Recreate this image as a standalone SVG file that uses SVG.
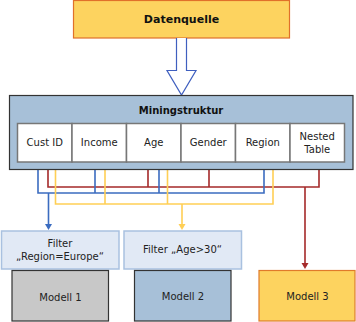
<svg xmlns="http://www.w3.org/2000/svg" width="356" height="322" viewBox="0 0 356 322">
<style>
text{font-family:"DejaVu Sans",Verdana,sans-serif;font-size:10px;fill:#222;text-anchor:middle;dominant-baseline:central}
.b{font-weight:bold;fill:#111}
.cell{fill:#fff;stroke:#777;stroke-width:1.5}
.ln{fill:none;stroke-width:1.6}
.bl{stroke:#3B6CC0}
.rd{stroke:#A52A2A}
.yl{stroke:#FFCF55}
.flt{fill:#E1E9F5;stroke:#A9C1E0;stroke-width:1.5}
</style>
<g id="datenquelle">
<rect x="73.5" y="0.5" width="216" height="37.5" fill="#FDD35F" stroke="#E0702A" stroke-width="1.2"/>
<text class="b" x="181.5" y="19" style="font-size:11px">Datenquelle</text>
</g>
<g id="connectors">
<path d="M176.5,38 V70.5 H167 L181.5,95 L196,70.5 H186.5 V38" fill="#fff" stroke="#3F5FBF" stroke-width="1.2"/>
<path class="ln rd" d="M48,162 V187 H319 V162 M148,162 V187 M209,162 V187 M305,187 V264"/>
<path d="M301.5,263 H308.5 L305,269 Z" fill="#A52A2A"/>
<path class="ln bl" d="M38,162 V193 H264 V162 M95,162 V193 M159,162 V193 M48.5,193 V225"/>
<path d="M45,224 H52 L48.5,230 Z" fill="#3B6CC0"/>
<path class="ln yl" d="M55.5,162 V204 H273 V162 M105,162 V204 M167.5,162 V204 M182,204 V225"/>
<path d="M178.5,224 H185.5 L182,230 Z" fill="#FFCF55"/>
</g>
<g id="miningstruktur">
<rect x="9.5" y="95.5" width="343.5" height="74" fill="#A7C0D8" stroke="#333" stroke-width="1.2"/>
<text class="b" x="181" y="110">Miningstruktur</text>
</g>
<g id="cust-id"><rect class="cell" x="17.5" y="123.5" width="54.5" height="38.5"/><text x="44.75" y="142.5">Cust ID</text></g>
<g id="income"><rect class="cell" x="72" y="123.5" width="54.5" height="38.5"/><text x="99.25" y="142.5">Income</text></g>
<g id="age"><rect class="cell" x="126.5" y="123.5" width="54.5" height="38.5"/><text x="153.75" y="142.5">Age</text></g>
<g id="gender"><rect class="cell" x="181" y="123.5" width="54.5" height="38.5"/><text x="208.25" y="142.5">Gender</text></g>
<g id="region"><rect class="cell" x="235.5" y="123.5" width="54.5" height="38.5"/><text x="262.75" y="142.5">Region</text></g>
<g id="nested-table"><rect class="cell" x="290" y="123.5" width="54.5" height="38.5"/><text x="317.25" y="136">Nested</text><text x="317.25" y="149">Table</text></g>
<g id="filter1"><rect class="flt" x="1.5" y="231" width="117.5" height="38"/><text x="60" y="243.5">Filter</text><text x="60" y="256.5">„Region=Europe“</text></g>
<g id="filter2"><rect class="flt" x="124" y="231" width="117.5" height="38"/><text x="182.5" y="249.5">Filter „Age&gt;30“</text></g>
<g id="modell1"><rect x="12" y="270.5" width="96.5" height="50.5" fill="#C8C8C8" stroke="#333" stroke-width="1.2"/><text x="60.5" y="297">Modell 1</text></g>
<g id="modell2"><rect x="134.5" y="270.5" width="96.5" height="50.5" fill="#A7C0D8" stroke="#333" stroke-width="1.2"/><text x="183" y="296">Modell 2</text></g>
<g id="modell3"><rect x="259" y="270.5" width="96" height="50.5" fill="#FDD35F" stroke="#E07B2A" stroke-width="1.2"/><text x="307.5" y="296">Modell 3</text></g>
</svg>
